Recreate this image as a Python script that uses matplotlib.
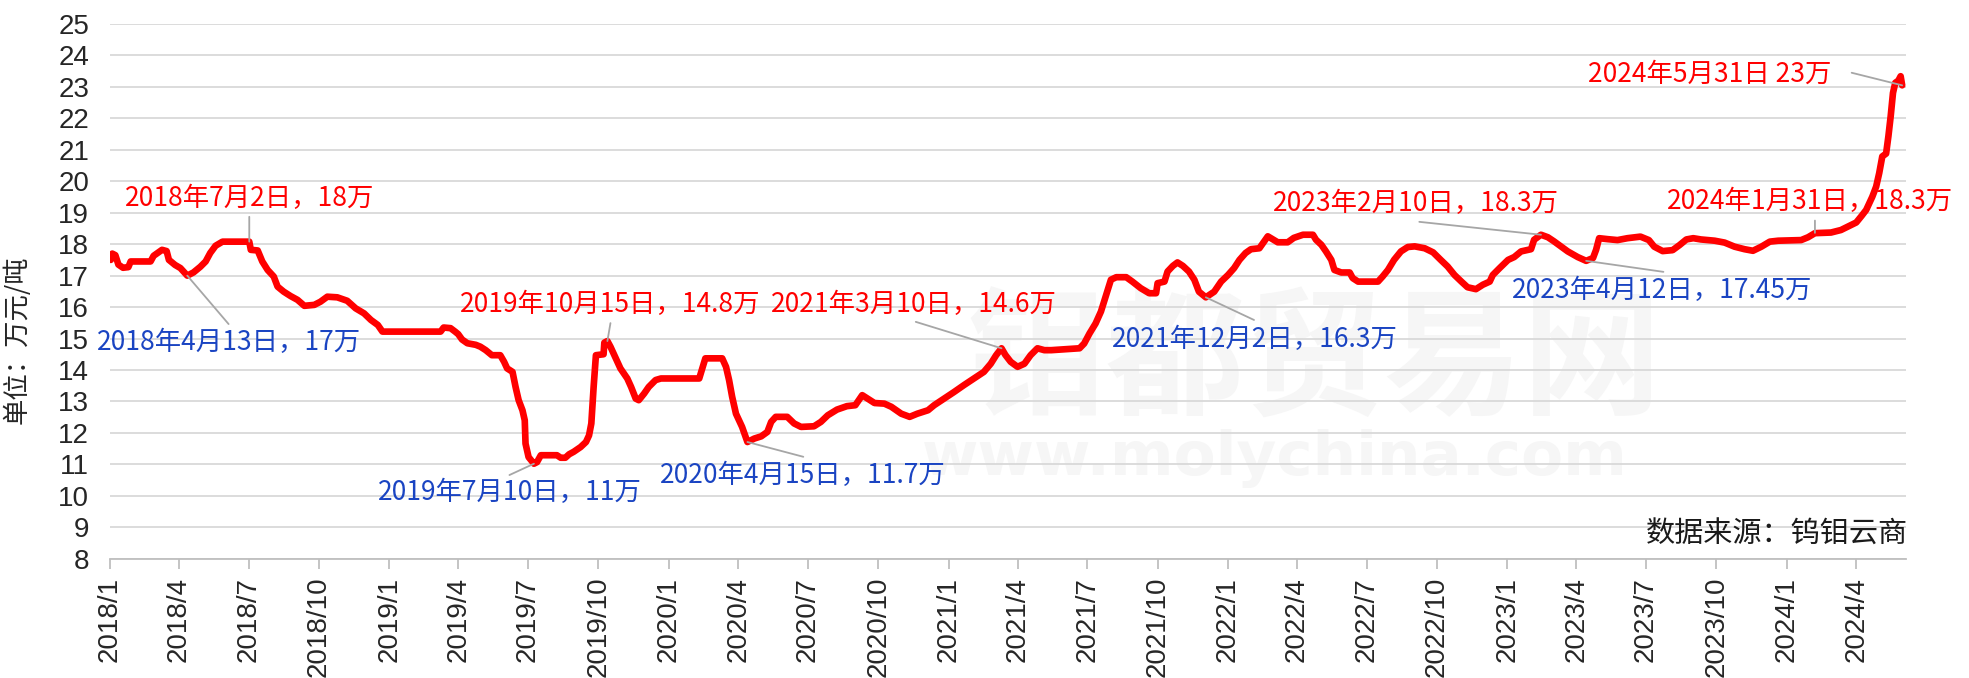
import matplotlib
matplotlib.use("Agg")
import matplotlib.pyplot as plt
import pandas as pd

# ---------------- data ----------------
dates = [
    '2018-01-02', '2018-01-04', '2018-01-08', '2018-01-12', '2018-01-18', '2018-01-25', '2018-01-28',
    '2018-02-23', '2018-02-27', '2018-03-10', '2018-03-16', '2018-03-19', '2018-03-27', '2018-04-03',
    '2018-04-12', '2018-04-20', '2018-04-29', '2018-05-06', '2018-05-12', '2018-05-19', '2018-05-28',
    '2018-07-02', '2018-07-04', '2018-07-13', '2018-07-19', '2018-07-26', '2018-08-03', '2018-08-08',
    '2018-08-16', '2018-08-25', '2018-09-03', '2018-09-12', '2018-09-25', '2018-10-03', '2018-10-12',
    '2018-10-25', '2018-11-07', '2018-11-18', '2018-11-29', '2018-12-08', '2018-12-17', '2018-12-23',
    '2019-03-09', '2019-03-13', '2019-03-22', '2019-03-28', '2019-04-01', '2019-04-06', '2019-04-13',
    '2019-04-24', '2019-04-30', '2019-05-07', '2019-05-15', '2019-05-26', '2019-05-31', '2019-06-04',
    '2019-06-11', '2019-06-15', '2019-06-19', '2019-06-24', '2019-06-27', '2019-06-28', '2019-07-02',
    '2019-07-09', '2019-07-13', '2019-07-18', '2019-08-08', '2019-08-13', '2019-08-19', '2019-08-24',
    '2019-08-30', '2019-09-08', '2019-09-15', '2019-09-19', '2019-09-22', '2019-09-25', '2019-09-28',
    '2019-10-08', '2019-10-09', '2019-10-13', '2019-10-17', '2019-10-24', '2019-10-30', '2019-11-08',
    '2019-11-13', '2019-11-19', '2019-11-23', '2019-11-30', '2019-12-06', '2019-12-15', '2019-12-22',
    '2020-02-10', '2020-02-14', '2020-02-18', '2020-03-11', '2020-03-16', '2020-03-20', '2020-03-24',
    '2020-03-29', '2020-04-02', '2020-04-06', '2020-04-13', '2020-04-22', '2020-05-01', '2020-05-09',
    '2020-05-14', '2020-05-20', '2020-06-04', '2020-06-13', '2020-06-22', '2020-07-09', '2020-07-18',
    '2020-07-27', '2020-08-08', '2020-08-21', '2020-09-01', '2020-09-10', '2020-09-17', '2020-09-26',
    '2020-10-09', '2020-10-18', '2020-10-31', '2020-11-11', '2020-11-21', '2020-12-05', '2020-12-13',
    '2020-12-26', '2021-01-08', '2021-01-21', '2021-02-03', '2021-02-16', '2021-02-25', '2021-03-04',
    '2021-03-11', '2021-03-16', '2021-03-23', '2021-04-01', '2021-04-10', '2021-04-18', '2021-04-27',
    '2021-05-06', '2021-05-15', '2021-06-21', '2021-06-27', '2021-07-04', '2021-07-12', '2021-07-19',
    '2021-07-25', '2021-08-01', '2021-08-08', '2021-08-21', '2021-08-29', '2021-09-09', '2021-09-20',
    '2021-09-29', '2021-10-01', '2021-10-10', '2021-10-14', '2021-10-21', '2021-10-27', '2021-11-03',
    '2021-11-11', '2021-11-18', '2021-11-24', '2021-12-03', '2021-12-14', '2021-12-23', '2022-01-01',
    '2022-01-09', '2022-01-16', '2022-01-24', '2022-01-31', '2022-02-11', '2022-02-22', '2022-03-07',
    '2022-03-20', '2022-03-28', '2022-04-09', '2022-04-22', '2022-04-26', '2022-05-03', '2022-05-09',
    '2022-05-16', '2022-05-20', '2022-05-29', '2022-06-09', '2022-06-13', '2022-06-20', '2022-07-16',
    '2022-07-22', '2022-07-29', '2022-08-06', '2022-08-15', '2022-08-24', '2022-09-02', '2022-09-15',
    '2022-09-26', '2022-10-06', '2022-10-15', '2022-10-24', '2022-11-02', '2022-11-10', '2022-11-21',
    '2022-11-30', '2022-12-09', '2022-12-13', '2022-12-22', '2023-01-02', '2023-01-10', '2023-01-19',
    '2023-02-01', '2023-02-05', '2023-02-14', '2023-02-23', '2023-03-03', '2023-03-12', '2023-03-21',
    '2023-04-03', '2023-04-14', '2023-04-23', '2023-04-27', '2023-05-01', '2023-05-12', '2023-05-25',
    '2023-06-07', '2023-06-24', '2023-07-05', '2023-07-12', '2023-07-23', '2023-08-05', '2023-08-14',
    '2023-08-23', '2023-09-01', '2023-09-11', '2023-09-29', '2023-10-12', '2023-10-25', '2023-11-07',
    '2023-11-18', '2023-11-29', '2023-12-10', '2023-12-21', '2024-01-20', '2024-01-29', '2024-02-07',
    '2024-02-28', '2024-03-12', '2024-03-23', '2024-04-01', '2024-04-08', '2024-04-14', '2024-04-18',
    '2024-04-22', '2024-04-27', '2024-05-01', '2024-05-05', '2024-05-10', '2024-05-13', '2024-05-16',
    '2024-05-19', '2024-05-22', '2024-05-26', '2024-05-29', '2024-05-31',
]
prices = [
    17.5, 17.7, 17.65, 17.35, 17.25, 17.27, 17.45,
    17.45, 17.63, 17.82, 17.78, 17.5, 17.34, 17.24,
    17.0, 17.1, 17.28, 17.45, 17.72, 17.95, 18.08,
    18.08, 17.82, 17.8, 17.45, 17.18, 16.97, 16.65,
    16.49, 16.35, 16.23, 16.04, 16.07, 16.17, 16.33,
    16.31, 16.2, 15.96, 15.8, 15.59, 15.43, 15.22,
    15.22, 15.35, 15.33, 15.22, 15.14, 14.97, 14.85,
    14.8, 14.74, 14.63, 14.47, 14.47, 14.26, 14.05,
    13.94, 13.46, 13.04, 12.72, 12.4, 11.66, 11.23,
    11.02, 11.07, 11.29, 11.29, 11.21, 11.21, 11.32,
    11.4, 11.55, 11.71, 11.92, 12.3, 13.46, 14.47,
    14.5, 14.87, 14.92, 14.74, 14.37, 14.05, 13.73,
    13.46, 13.09, 13.04, 13.25, 13.46, 13.68, 13.73,
    13.73, 14.05, 14.37, 14.37, 14.1, 13.68, 13.15,
    12.61, 12.4, 12.19, 11.71, 11.82, 11.89, 12.03,
    12.35, 12.51, 12.51, 12.3, 12.19, 12.21, 12.35,
    12.56, 12.74, 12.85, 12.88, 13.2, 13.09, 12.95,
    12.93, 12.83, 12.61, 12.51, 12.61, 12.72, 12.88,
    13.09, 13.3, 13.52, 13.73, 13.94, 14.2, 14.47,
    14.69, 14.48, 14.26, 14.1, 14.2, 14.47, 14.69,
    14.63, 14.63, 14.69, 14.84, 15.16, 15.48, 15.86,
    16.33, 16.87, 16.95, 16.95, 16.81, 16.6, 16.44,
    16.44, 16.76, 16.81, 17.13, 17.31, 17.42, 17.31,
    17.13, 16.87, 16.49, 16.31, 16.49, 16.81, 17.02,
    17.24, 17.5, 17.72, 17.84, 17.87, 18.25, 18.06,
    18.06, 18.2, 18.3, 18.3, 18.14, 17.98, 17.77,
    17.5, 17.18, 17.1, 17.1, 16.92, 16.81, 16.81,
    16.97, 17.18, 17.5, 17.77, 17.91, 17.93, 17.87,
    17.74, 17.5, 17.29, 17.02, 16.81, 16.63, 16.57,
    16.71, 16.81, 17.02, 17.24, 17.5, 17.59, 17.77,
    17.84, 18.14, 18.3, 18.22, 18.09, 17.93, 17.77,
    17.59, 17.47, 17.56, 17.82, 18.19, 18.16, 18.13,
    18.19, 18.24, 18.13, 17.92, 17.78, 17.81, 17.97,
    18.15, 18.19, 18.15, 18.11, 18.05, 17.92, 17.84,
    17.79, 17.92, 18.08, 18.11, 18.13, 18.22, 18.35,
    18.37, 18.45, 18.58, 18.69, 18.9, 19.09, 19.3,
    19.51, 19.83, 20.26, 20.79, 20.88, 21.43, 22.07,
    22.81, 23.13, 23.2, 23.34, 23.05,
]

tick_dates = pd.date_range('2018-01-01', '2024-04-01', freq='3MS')
tick_labels = [f"{d.year}/{d.month}" for d in tick_dates]
y_ticks = list(range(8, 26))

# annotations: text, color, text position, leader start, leader end (data point)
ann_texts = ['2018年7月2日，18万', '2018年4月13日，17万', '2019年10月15日，14.8万',
             '2021年3月10日，14.6万', '2019年7月10日，11万', '2020年4月15日，11.7万',
             '2021年12月2日，16.3万', '2023年2月10日，18.3万', '2023年4月12日，17.45万',
             '2024年1月31日，18.3万', '2024年5月31日 23万']
ann_colors = ['red', 'blue', 'red', 'red', 'blue', 'blue', 'blue', 'red', 'blue', 'red', 'red']
ann_text_x = ['2018-07-02', '2018-06-05', '2019-10-17', '2020-11-16', '2019-06-07', '2020-06-25',
              '2022-02-05', '2022-09-04', '2023-07-22', '2024-01-31', '2023-09-23']
ann_text_y = [19.44, 14.86, 16.07, 16.07, 10.09, 10.64, 14.97, 19.30, 16.54, 19.35, 23.41]
lead_x0 = ['2018-07-02', '2018-06-05', '2019-10-17', '2020-11-19', '2019-06-07', '2020-06-25',
           '2022-02-04', '2022-09-08', '2023-07-24', '2024-02-07', '2024-03-26']
lead_y0 = [18.87, 15.46, 15.49, 15.53, 10.66, 11.24, 15.59, 18.71, 17.12, 18.75, 23.45]
lead_x1 = ['2018-07-02', '2018-04-12', '2019-10-13', '2021-03-11', '2019-07-09', '2020-04-13',
           '2021-12-03', '2023-02-14', '2023-04-14', '2024-02-07', '2024-05-31']
lead_y1 = [18.08, 17.0, 14.92, 14.69, 11.02, 11.71, 16.31, 18.3, 17.47, 18.36, 23.05]

# ---------------- style ----------------
plt.rcParams['font.family'] = ['Noto Sans CJK SC', 'DejaVu Sans']
RED = '#ff0000'
BLUE = '#1a44c2'
GRID = '#d9d9d9'
LEAD = '#a6a6a6'
WM = '#f6f6f6'

fig = plt.figure(figsize=(19.69, 6.78), dpi=100)
ax = fig.add_axes([110 / 1969, 1 - 558.7 / 678, (1906 - 110) / 1969, (558.7 - 24) / 678])

# faint watermark (behind gridlines)
ax.text(1315 / 1969, 1 - 364 / 678, '钼都贸易网', fontsize=100, color=WM,
        ha='center', va='center', fontweight='bold', transform=fig.transFigure, zorder=0)
ax.text(1275 / 1969, 1 - 458 / 678, 'www.molychina.com', fontsize=44, color=WM,
        ha='center', va='center', fontweight='bold', family='DejaVu Sans',
        transform=fig.transFigure, zorder=0)

x = pd.to_datetime(dates)
ax.plot(x, prices, color=RED, lw=4.8, solid_joinstyle='round', solid_capstyle='round', zorder=3)

ax.set_ylim(8, 25)
ax.set_xlim(pd.Timestamp('2018-01-01'), pd.Timestamp('2024-06-05'))
ax.set_yticks(y_ticks)
ax.set_yticklabels([str(v) for v in y_ticks], family='Liberation Sans', fontsize=20)
ax.set_xticks(tick_dates)
ax.set_xticklabels(tick_labels, rotation=90, family='Liberation Sans', fontsize=20)
ax.grid(axis='y', color=GRID, lw=1.3, zorder=1)
ax.set_axisbelow(True)
for s in ['top', 'right', 'left']:
    ax.spines[s].set_visible(False)
ax.spines['bottom'].set_color('#bfbfbf')
ax.spines['bottom'].set_linewidth(1.3)
ax.tick_params(axis='y', length=0, pad=15, colors='#262626')
ax.tick_params(axis='x', length=7, width=1.3, color='#bfbfbf', pad=6, labelcolor='#262626')

ax.set_ylabel('单位：万元/吨', fontsize=19, color='#262626')
ax.yaxis.set_label_coords(-0.044, 0.41)

cmap = {'red': RED, 'blue': BLUE}
for t, c, tx, ty, x0, y0, x1, y1 in zip(ann_texts, ann_colors, ann_text_x, ann_text_y,
                                        lead_x0, lead_y0, lead_x1, lead_y1):
    ax.annotate('', xy=(pd.Timestamp(x1), y1), xytext=(pd.Timestamp(x0), y0),
                arrowprops=dict(arrowstyle='-', color=LEAD, lw=1.3, shrinkA=0, shrinkB=0),
                zorder=4)
    ax.text(pd.Timestamp(tx), ty, t, color=cmap[c], fontsize=19, ha='center', va='center', zorder=5)

fig.text(1908 / 1969, 1 - 535 / 678, '数据来源：钨钼云商', fontsize=21, color='#1a1a1a',
         ha='right', va='center')

fig.savefig('out.png', dpi=100)
